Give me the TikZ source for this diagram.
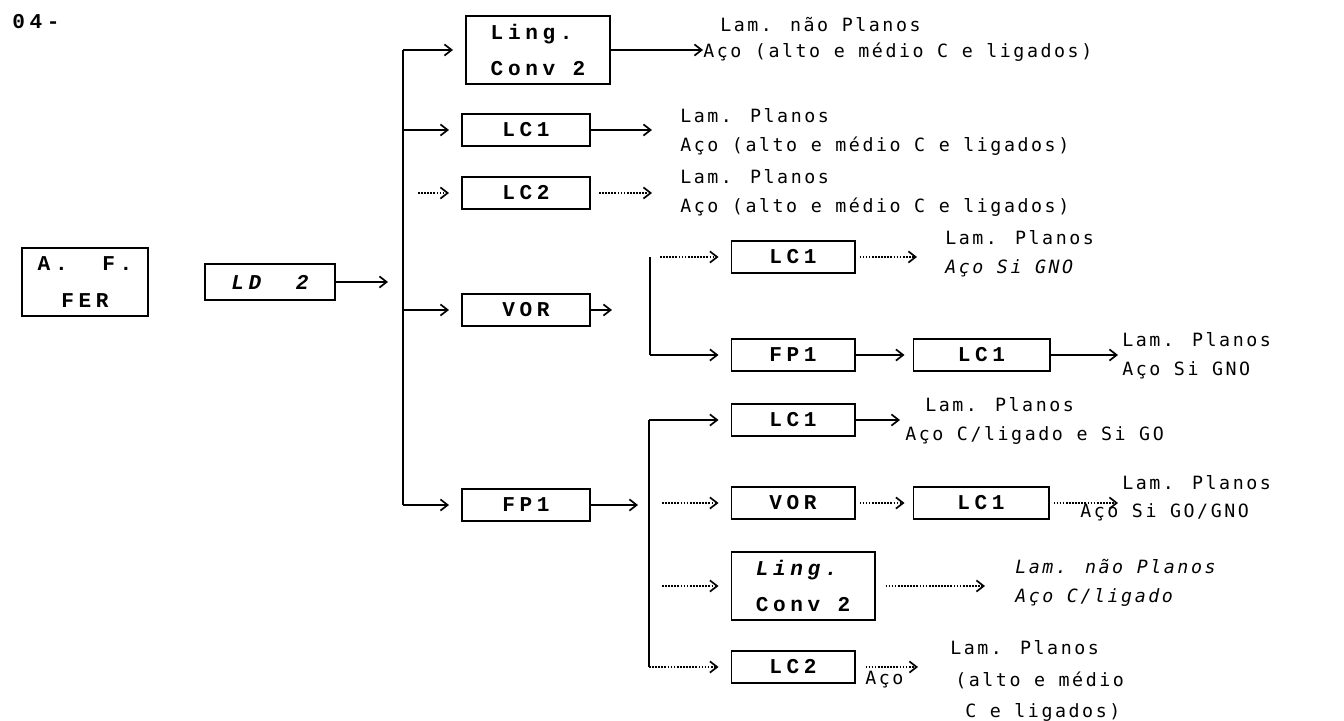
\documentclass[tikz,border=0pt]{standalone}
\usepackage{fontspec}
\usetikzlibrary{arrows.meta,positioning}
\newfontfamily\boxfont[LetterSpace=22]{Liberation Mono}
\newfontfamily\outfont[LetterSpace=14]{DejaVu Sans Mono}
\tikzset{
  blk/.style={draw, line width=1.4pt, minimum width=3.2cm, minimum height=0.8cm, inner sep=2pt, align=left, font=\boxfont\bfseries\fontsize{15}{26}\selectfont},
  tallblk/.style={blk, minimum height=1.68cm},
  outtxt/.style={anchor=west, align=left, inner sep=0pt, font=\outfont\fontsize{13}{21}\selectfont},
  arrow/.style={-{Straight Barb[length=1.8mm, width=2.8mm]}, line width=1.2pt},
  darrow/.style={arrow, densely dotted},
  busline/.style={line width=1.2pt}
}
\begin{document}
\begin{tikzpicture}[x=0.025cm, y=-0.025cm]
\useasboundingbox (0,0) rectangle (1344,721);
\node[anchor=west, inner sep=0pt, font=\boxfont\bfseries\fontsize{15}{17}\selectfont] (title) at (12,22) {04-};

% start of the route
\node[tallblk, minimum width=3.15cm, align=center] (afer) at (85,282) {A.~~F.\\FER};
\node[blk, minimum width=3.25cm, minimum height=0.9cm, font=\boxfont\bfseries\itshape\fontsize{15}{18}\selectfont, right=1.375cm of afer] (ld) {LD~~2};
\coordinate (busA) at (403,50);
\coordinate (busE) at (403,505);
\draw[arrow, shorten >=0.375cm] (ld.east) -- (ld.east -| busA);
\draw[busline] (busA) -- (busE);

% first level
\node[tallblk, minimum width=3.6cm] (linga) at (538,50) {Ling.\\Conv 2};
\node[blk] (lca) at (526,130) {LC1};
\node[blk] (lcb) at (526,193) {LC2};
\node[blk] (vora) at (526,310) {VOR};
\node[blk] (fpa) at (526,505) {FP1};
\draw[arrow, shorten >=0.3cm] (busA) -- (busA -| linga.west);
\draw[arrow, shorten >=0.3cm] (lca.west -| busA) -- (lca.west);
\draw[darrow, shorten <=0.375cm, shorten >=0.3cm] (lcb.west -| busA) -- (lcb.west);
\draw[arrow, shorten >=0.3cm] (vora.west -| busA) -- (vora.west);
\draw[arrow, shorten >=0.3cm] (busE) -- (fpa.west);

\node[outtxt] (ta1) at (720,25) {Lam. não Planos};
\node[outtxt] (ta2) at (703,52) {Aço (alto e médio C e ligados)};
\draw[arrow] (linga.east) -- (linga.east -| ta2.west);
\node[outtxt] (tb) at (680,132) {Lam. Planos\\Aço (alto e médio C e ligados)};
\draw[arrow, shorten >=0.7cm] (lca.east) -- (lca.east -| tb.west);
\node[outtxt] (tc) at (680,193) {Lam. Planos\\Aço (alto e médio C e ligados)};
\draw[darrow, shorten <=0.2cm, shorten >=0.7cm] (lcb.east) -- (lcb.east -| tc.west);

% after VOR
\coordinate (busB) at (650,257);
\coordinate (busC) at (650,355);
\draw[arrow, shorten >=0.95cm] (vora.east) -- (vora.east -| busB);
\draw[busline] (busB) -- (busC);
\node[blk, minimum width=3.075cm] (lcc) at (793,257) {LC1};
\node[blk, minimum width=3.075cm] (fpb) at (793,355) {FP1};
\node[blk, minimum width=3.4cm, right=1.425cm of fpb] (lcd) {LC1};
\draw[darrow, shorten <=0.25cm, shorten >=0.3cm] (busB) -- (lcc.west);
\draw[arrow, shorten >=0.3cm] (busC) -- (fpb.west);
\draw[arrow, shorten >=0.2cm] (fpb) -- (lcd);
\node[outtxt] (td) at (945,254) {Lam. Planos\\{\itshape Aço Si GNO}};
\draw[darrow, shorten <=0.1cm, shorten >=0.7cm] (lcc.east) -- (lcc.east -| td.west);
\node[outtxt] (te) at (1122,356) {Lam. Planos\\Aço Si GNO};
\draw[arrow, shorten >=0.1cm] (lcd.east) -- (lcd.east -| te.west);

% after FP1
\coordinate (busD) at (649,420);
\coordinate (busG) at (649,667);
\draw[arrow, shorten >=0.275cm] (fpa.east) -- (fpa.east -| busD);
\draw[busline] (busD) -- (busG);
\node[blk, minimum width=3.075cm] (lce) at (793,420) {LC1};
\node[blk, minimum width=3.075cm] (vorb) at (793,503) {VOR};
\node[blk, minimum width=3.375cm, right=1.425cm of vorb] (lcf) {LC1};
\node[tallblk, minimum width=3.575cm] (lingb) at (803,586) {{\itshape Ling.}\\Conv 2};
\node[blk, minimum width=3.075cm] (lcg) at (793,667) {LC2};
\draw[arrow, shorten >=0.3cm] (busD) -- (lce.west);
\draw[darrow, shorten <=0.325cm, shorten >=0.3cm] (vorb.west -| busD) -- (vorb.west);
\draw[darrow, shorten <=0.325cm, shorten >=0.3cm] (lingb.west -| busD) -- (lingb.west);
\draw[darrow, shorten >=0.3cm] (busG) -- (lcg.west);
\draw[darrow, shorten <=0.1cm, shorten >=0.2cm] (vorb) -- (lcf);

\node[outtxt] (tf1) at (925,405) {Lam. Planos};
\node[outtxt] (tf2) at (905,435) {Aço C/ligado e Si GO};
\draw[arrow, shorten >=0.125cm] (lce.east) -- (lce.east -| tf2.west);
\node[outtxt] (tg1) at (1122,483) {Lam. Planos};
\node[outtxt] (tg2) at (1080,512) {Aço Si GO/GNO};
\draw[darrow, shorten <=0.1cm, shorten >=0.1cm] (lcf.east) -- (lcf.east -| tg1.west);
\node[outtxt, font=\outfont\itshape\fontsize{13}{21}\selectfont] (ti) at (1015,583) {Lam. não Planos\\Aço C/ligado};
\draw[darrow, shorten <=0.25cm, shorten >=0.75cm] (lingb.east) -- (lingb.east -| ti.west);
\node[outtxt] (th1) at (950,648) {Lam. Planos};
\node[outtxt] (th2) at (865,680) {Aço};
\node[outtxt] (th3) at (955,680) {(alto e médio};
\node[outtxt] (th4) at (965,712) {C e ligados)};
\draw[darrow, shorten <=0.25cm, shorten >=0.925cm] (lcg.east) -- (lcg.east -| th3.west);
\end{tikzpicture}
\end{document}
